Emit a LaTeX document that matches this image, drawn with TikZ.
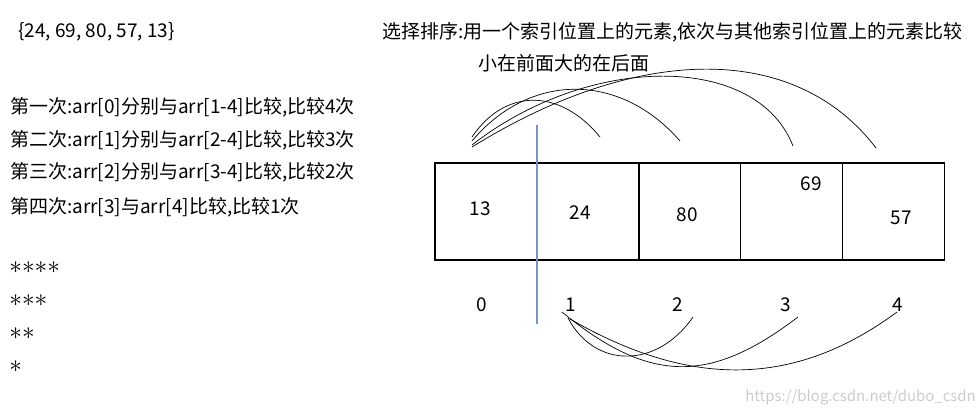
\documentclass[tikz,border=0pt]{standalone}
\usepackage{fontspec}
\setmainfont{Noto Sans CJK SC}
\usetikzlibrary{positioning}
\definecolor{guideblue}{RGB}{125,145,190}
\newcommand\starmark{\ensuremath{\mathord{\ast}}}

\begin{document}
\begin{tikzpicture}[
  x=0.02cm, y=-0.02cm,
  every node/.style={font=\fontsize{10.8pt}{13pt}\selectfont, inner sep=0pt},
  txt/.style={anchor=west},
  stars/.style={anchor=west, font=\fontsize{14pt}{15pt}\selectfont},
  cell/.style={draw, line width=0.6pt, minimum width=2.04cm, minimum height=1.94cm, outer sep=0pt},
  arc/.style={line width=0.4pt},
  guide/.style={draw=guideblue, line width=0.6pt}
]
\useasboundingbox (0,0) rectangle (977,414);

% texts on the left
\node[txt] (arr) at (18,32) {\{24, 69, 80, 57, 13\}};
\node[txt] (pass1) at (10,107) {第一次:arr[0]分别与arr[1-4]比较,比较4次};
\node[txt] (pass2) at (10,140) {第二次:arr[1]分别与arr[2-4]比较,比较3次};
\node[txt] (pass3) at (10,172) {第三次:arr[2]分别与arr[3-4]比较,比较2次};
\node[txt] (pass4) at (10,207) {第四次:arr[3]与arr[4]比较,比较1次};
\node[stars] (star4) at (9,268) {\starmark\starmark\starmark\starmark};
\node[stars] (star3) at (9,301) {\starmark\starmark\starmark};
\node[stars] (star2) at (9,334) {\starmark\starmark};
\node[stars] (star1) at (9,367) {\starmark};

% title
\node[txt] (title) at (382,32) {选择排序:用一个索引位置上的元素,依次与其他索引位置上的元素比较};
\node[txt] (rule) at (478,63) {小在前面大的在后面};

% array cells
\node[cell] (c0) at (486,211.5) {};
\node[cell, right=0pt of c0] (c1) {};
\node[cell, right=0pt of c1] (c2) {};
\node[cell, right=0pt of c2] (c3) {};
\node[cell, right=0pt of c3] (c4) {};

\node (v13) at (480,209) {13};
\node (v24) at (580,213) {24};
\node (v80) at (687,215) {80};
\node (v69) at (811,184) {69};
\node (v57) at (901,218) {57};

% indices
\node (i0) at (482,305) {0};
\node (i1) at (571,305) {1};
\node (i2) at (678,305) {2};
\node (i3) at (786,305) {3};
\node (i4) at (898,305) {4};

% guide line
\coordinate (gtop) at (537,125);
\coordinate (gbot) at (537,324);
\draw[guide] (gtop) -- (gbot);

% arcs above
\coordinate (a1) at (472,137); \coordinate (b1) at (600,137);
\coordinate (a2) at (472,141); \coordinate (b2) at (680,141);
\coordinate (a3) at (472,145); \coordinate (b3) at (793,146);
\coordinate (a4) at (472,147); \coordinate (b4) at (876,148);
\draw[arc] (a1) .. controls (505,88) and (560,88) .. (b1);
\draw[arc] (a2) .. controls (530,72) and (620,72) .. (b2);
\draw[arc] (a3) .. controls (590,53) and (757,53) .. (b3);
\draw[arc] (a4) .. controls (640,43) and (796,43) .. (b4);

% arcs below
\coordinate (p2) at (568,318); \coordinate (q2) at (693,317);
\coordinate (p3) at (562,312); \coordinate (q3) at (798,317);
\coordinate (p4) at (570,319); \coordinate (q4) at (897,312);
\draw[arc] (p2) .. controls (595,369) and (657,369) .. (q2);
\draw[arc] (p3) .. controls (650,384) and (710,384) .. (q3);
\draw[arc] (p4) .. controls (690,388) and (794,388) .. (q4);

% watermark
\node[txt, text=gray!40, font=\fontsize{8.5pt}{10pt}\selectfont] (mark) at (745,397) {https://blog.csdn.net/dubo\_csdn};
\end{tikzpicture}
\end{document}
